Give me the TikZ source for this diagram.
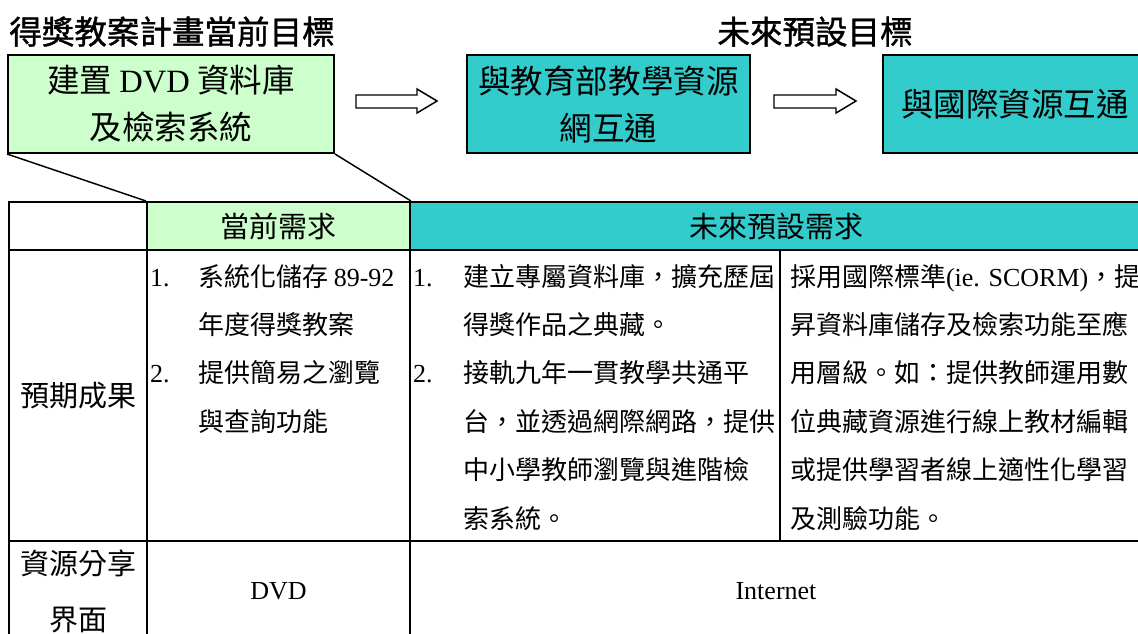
\documentclass[tikz,border=0pt]{standalone}
\usepackage{fontspec}
\setmainfont{Liberation Serif}
\newfontfamily\cjk{Noto Sans CJK TC}
\newfontfamily\cjkhead[FakeBold=1.2]{Noto Sans CJK TC}
\usetikzlibrary{positioning}

\definecolor{paleGreen}{RGB}{204,255,204}
\definecolor{aquaTeal}{RGB}{51,204,204}
\newcommand\lat[1]{{\rmfamily #1}}

\tikzset{every picture/.style={line width=1.5pt}}
\tikzset{
  goalbox/.style={draw, line width=1.5pt, minimum height=73.5pt, inner sep=0pt, align=center,
    font=\cjk\fontsize{24.4}{35.25}\selectfont},
  cellbox/.style={draw, line width=1.5pt, inner sep=0pt, align=center,
    font=\cjk\fontsize{21.75}{42}\selectfont},
  latcell/.style={cellbox, font=\rmfamily\fontsize{19.5}{24}\selectfont},
  bodytext/.style={anchor=base west, inner sep=0pt, font=\cjk\fontsize{19.5}{36.3}\selectfont},
  numtext/.style={anchor=base west, inner sep=0pt, font=\rmfamily\fontsize{19.5}{36.3}\selectfont},
  titletext/.style={anchor=base, inner sep=0pt, font=\cjkhead\fontsize{24.4}{30}\selectfont},
  blockarrow/.style={draw, line width=1.1pt, fill=white}
}

\begin{document}
\begin{tikzpicture}[x=0.75pt,y=0.75pt,yscale=-1,xscale=1]
		\useasboundingbox (0,0) rectangle (1138,633);

		% Text Node
		\node[titletext] (nowTitle) at (172,44) {得獎教案計畫當前目標};
		% Text Node
		\node[titletext] (futTitle) at (815,44) {未來預設目標};

		%Shape: Rectangle
		\node[goalbox, fill=paleGreen, minimum width=244.5pt] (nowGoal) at (171,104) {建置 \lat{DVD} 資料庫\\及檢索系統};
		%Shape: Rectangle
		\node[goalbox, fill=aquaTeal, minimum width=212.25pt] (eduGoal) at (608.5,104) {與教育部教學資源\\網互通};
		%Shape: Rectangle
		\node[goalbox, fill=aquaTeal, minimum width=198pt] (intlGoal) at (1015,104) {與國際資源互通};

		%Shape: Right Arrow
		\draw[blockarrow] (356,95) -- (417,95) -- (417,89) -- (437,101) -- (417,113) -- (417,108) -- (356,108) -- cycle ;
		%Shape: Right Arrow
		\draw[blockarrow] (774,95) -- (836,95) -- (836,89) -- (856,101) -- (836,113) -- (836,108) -- (774,108) -- cycle ;

		%Table: head row
		\node[cellbox, minimum width=103.5pt, minimum height=36pt] (corner) at (78,226) {};
		\node[cellbox, fill=paleGreen, minimum width=197.25pt, minimum height=36pt] (nowNeed) at (278.5,226) {當前需求};
		\node[cellbox, fill=aquaTeal, minimum width=549pt, minimum height=36pt] (futNeed) at (776,226) {未來預設需求};
		%Table: results row
		\node[cellbox, minimum width=103.5pt, minimum height=218.25pt] (resLabel) at (78,395.5) {預期成果};
		\node[cellbox, minimum width=197.25pt, minimum height=218.25pt] (resNow) at (278.5,395.5) {};
		\node[cellbox, minimum width=277.5pt, minimum height=218.25pt] (resEdu) at (595,395.5) {};
		\node[cellbox, minimum width=271.5pt, minimum height=218.25pt] (resIntl) at (961,395.5) {};
		%Table: sharing row
		\node[cellbox, minimum width=103.5pt, minimum height=75pt] (shareLabel) at (78,591) {資源分享\\界面};
		\node[latcell, minimum width=197.25pt, minimum height=75pt] (shareNow) at (278.5,591) {DVD};
		\node[latcell, minimum width=549pt, minimum height=75pt] (shareFut) at (776,591) {Internet};

		%Straight Lines
		\draw [line width=1.1pt] (nowGoal.south west) -- (nowNeed.north west) ;
		%Straight Lines
		\draw [line width=1.1pt] (nowGoal.south east) -- (nowNeed.north east) ;

		% Text Node
		\node[numtext] (nowNumA) at (149,286) {1.};
		\node[bodytext] (nowA1) at (197,286) {系統化儲存 \lat{89-92}};
		\node[bodytext] (nowA2) at (197,334.4) {年度得獎教案};
		\node[numtext] (nowNumB) at (149,382.8) {2.};
		\node[bodytext] (nowB1) at (197,382.8) {提供簡易之瀏覽};
		\node[bodytext] (nowB2) at (197,431.2) {與查詢功能};
		% Text Node
		\node[numtext] (eduNumA) at (412,286) {1.};
		\node[bodytext] (eduA1) at (462,286) {建立專屬資料庫，擴充歷屆};
		\node[bodytext] (eduA2) at (462,334.4) {得獎作品之典藏。};
		\node[numtext] (eduNumB) at (412,382.8) {2.};
		\node[bodytext] (eduB1) at (462,382.8) {接軌九年一貫教學共通平};
		\node[bodytext] (eduB2) at (462,431.2) {台，並透過網際網路，提供};
		\node[bodytext] (eduB3) at (462,479.6) {中小學教師瀏覽與進階檢};
		\node[bodytext] (eduB4) at (462,528) {索系統。};
		% Text Node
		\node[bodytext] (intl1) at (789,286) {採用國際標準\lat{(ie. SCORM)}，提};
		\node[bodytext] (intl2) at (789,334.4) {昇資料庫儲存及檢索功能至應};
		\node[bodytext] (intl3) at (789,382.8) {用層級。如：提供教師運用數};
		\node[bodytext] (intl4) at (789,431.2) {位典藏資源進行線上教材編輯};
		\node[bodytext] (intl5) at (789,479.6) {或提供學習者線上適性化學習};
		\node[bodytext] (intl6) at (789,528) {及測驗功能。};
	\end{tikzpicture}
\end{document}
